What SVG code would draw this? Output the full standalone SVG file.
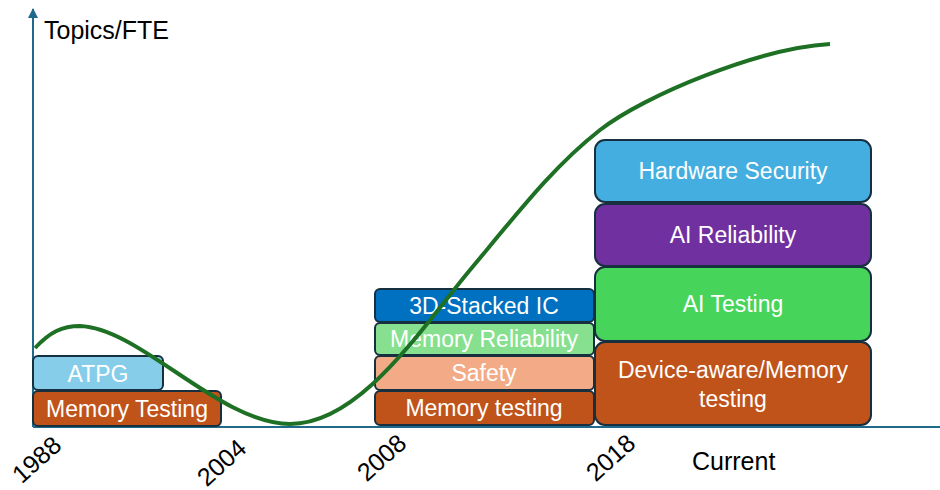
<svg xmlns="http://www.w3.org/2000/svg" width="940" height="490" viewBox="0 0 940 490">
<defs>
<style>
.box{stroke:#17303f;stroke-width:2}
.t{font-family:"Liberation Sans",Arial,sans-serif;font-size:23px;fill:#fff;text-anchor:middle}
.lbl{font-family:"Liberation Sans",Arial,sans-serif;font-size:25px;fill:#000}
.yr{font-family:"Liberation Sans",Arial,sans-serif;font-size:25px;fill:#000;text-anchor:middle}
</style>
<marker id="ah" viewBox="0 0 10 10" refX="9" refY="5" markerWidth="5" markerHeight="5" orient="auto">
<path d="M0,0 L10,5 L0,10 z" fill="#1f6a8a"/>
</marker>
</defs>
<rect width="940" height="490" fill="#fff"/>
<g id="axes">
<line x1="33" y1="427" x2="33" y2="9" stroke="#1f6a8a" stroke-width="2" marker-end="url(#ah)"/>
<line x1="33" y1="427" x2="940" y2="427" stroke="#1f6a8a" stroke-width="2"/>
</g>
<text class="lbl" x="44" y="39">Topics/FTE</text>
<text class="lbl" x="692" y="470" style="font-size:25px">Current</text>
<text class="yr" transform="translate(37,460) rotate(-42)" y="8">1988</text>
<text class="yr" transform="translate(222,463) rotate(-42)" y="8">2004</text>
<text class="yr" transform="translate(382,458) rotate(-42)" y="8">2008</text>
<text class="yr" transform="translate(611,458) rotate(-42)" y="8">2018</text>
<g id="memtest1988"><rect class="box" x="33" y="391" width="188" height="35" rx="5" fill="#c0531a"/><text class="t" x="127" y="417">Memory Testing</text></g>
<g id="atpg"><rect class="box" x="33" y="356" width="130" height="34" rx="5" fill="#86cdea"/><text class="t" x="98" y="382">ATPG</text></g>
<g id="memtest2008"><rect class="box" x="375" y="391" width="219" height="34" rx="5" fill="#c0531a"/><text class="t" x="484" y="416">Memory testing</text></g>
<g id="safety"><rect class="box" x="375" y="356" width="219" height="34" rx="5" fill="#f2ab86"/><text class="t" x="484" y="381">Safety</text></g>
<g id="memrel"><rect class="box" x="375" y="323" width="219" height="32" rx="5" fill="#86e08f"/><text class="t" x="484" y="347">Memory Reliability</text></g>
<g id="stacked"><rect class="box" x="375" y="289" width="219" height="33" rx="5" fill="#0070c0"/><text class="t" x="484" y="314">3D-Stacked IC</text></g>
<g id="device"><rect class="box" x="595" y="342" width="276" height="83" rx="10" fill="#c0531a"/><text class="t" x="733" y="378">Device-aware/Memory</text><text class="t" x="733" y="407">testing</text></g>
<g id="aitest"><rect class="box" x="595" y="267" width="276" height="74" rx="10" fill="#47d45b"/><text class="t" x="733" y="312">AI Testing</text></g>
<g id="airel"><rect class="box" x="595" y="204" width="276" height="62" rx="10" fill="#7030a0"/><text class="t" x="733" y="243">AI Reliability</text></g>
<g id="hwsec"><rect class="box" x="595" y="140" width="276" height="62" rx="10" fill="#44aee0"/><text class="t" x="733" y="179">Hardware Security</text></g>
<g id="connectors">
<path d="M35,348 C50,332 62,326 80,326 C140,328 220,424 290,424 C360,424 420,330 470,270 C520,210 555,165 600,130 C645,95 760,48 830,44" fill="none" stroke="#1e7024" stroke-width="4"/>
</g>
</svg>
